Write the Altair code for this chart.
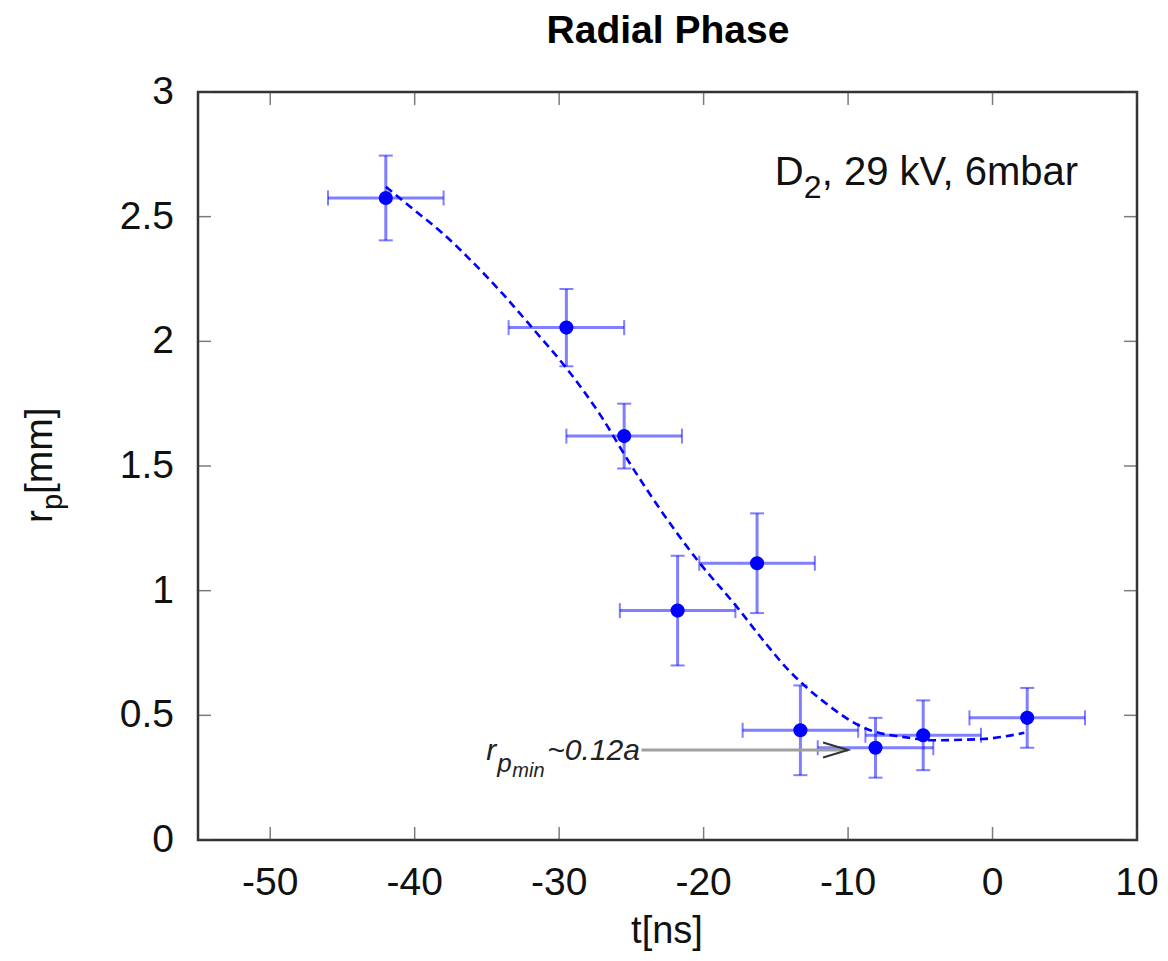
import altair as alt
import pandas as pd

# ---- data ----
t_ns = [-42.0, -29.5, -25.5, -21.8, -16.3, -13.3, -8.1, -4.8, 2.4]
r_mm = [2.575, 2.055, 1.62, 0.92, 1.11, 0.44, 0.37, 0.42, 0.49]
r_err = [0.17, 0.155, 0.13, 0.22, 0.20, 0.18, 0.12, 0.14, 0.12]
t_err = [4.0, 4.0, 4.0, 4.0, 4.0, 4.0, 4.0, 4.0, 4.0]

fit_t = [-42.0, -40.1, -38.0, -36.2, -33.9, -31.8, -29.6, -27.1, -25.1,
         -20.4, -17.7, -16.0, -14.1, -11.8, -8.9, -5.8, -4.2, -0.7, 2.2]
fit_r = [2.62, 2.53, 2.43, 2.33, 2.19, 2.05, 1.90, 1.70, 1.51,
         1.12, 0.935, 0.81, 0.68, 0.56, 0.45, 0.41, 0.40, 0.405, 0.43]

x_ticks = [-50, -40, -30, -20, -10, 0, 10]
y_ticks = [0, 0.5, 1, 1.5, 2, 2.5, 3]
x_labels = ["-50", "-40", "-30", "-20", "-10", "0", "10"]
y_labels = ["0", "0.5", "1", "1.5", "2", "2.5", "3"]

arrow_t = [-24.3, -10.0]
arrow_r = [0.361, 0.361]

FONT = "Liberation Sans"
BLUE = "#0000ff"

df = pd.DataFrame({
    "t": t_ns,
    "r": r_mm,
    "t_lo": [a - b for a, b in zip(t_ns, t_err)],
    "t_hi": [a + b for a, b in zip(t_ns, t_err)],
    "r_lo": [a - b for a, b in zip(r_mm, r_err)],
    "r_hi": [a + b for a, b in zip(r_mm, r_err)],
})
fit_df = pd.DataFrame({"t": fit_t, "r": fit_r})
arrow_df = pd.DataFrame({"t": arrow_t, "r": arrow_r})
xt_df = pd.DataFrame({"v": x_ticks, "lab": x_labels})
yt_df = pd.DataFrame({"v": y_ticks, "lab": y_labels})
one = pd.DataFrame({"a": [0]})

xs = alt.Scale(domain=[-55, 10], nice=False, zero=False)
ys = alt.Scale(domain=[0, 3], nice=False, zero=False)


def X(f):
    return alt.X(f, scale=xs, axis=None)


def Y(f):
    return alt.Y(f, scale=ys, axis=None)


base = alt.Chart(df)
EB = dict(color=BLUE, opacity=0.5)

hbar = base.mark_rule(strokeWidth=3, **EB).encode(x=X("t_lo:Q"), x2="t_hi:Q", y=Y("r:Q"))
vbar = base.mark_rule(strokeWidth=3, **EB).encode(x=X("t:Q"), y=Y("r_lo:Q"), y2="r_hi:Q")
cap_lo = base.mark_tick(thickness=2, size=14, orient="horizontal", **EB).encode(
    x=X("t:Q"), y=Y("r_lo:Q"))
cap_hi = base.mark_tick(thickness=2, size=14, orient="horizontal", **EB).encode(
    x=X("t:Q"), y=Y("r_hi:Q"))
cap_l = base.mark_tick(thickness=2, size=15, orient="vertical", **EB).encode(
    x=X("t_lo:Q"), y=Y("r:Q"))
cap_r = base.mark_tick(thickness=2, size=15, orient="vertical", **EB).encode(
    x=X("t_hi:Q"), y=Y("r:Q"))

fit = alt.Chart(fit_df).mark_line(color=BLUE, strokeWidth=2.6, strokeDash=[8, 5],
                                  interpolate="monotone").encode(x=X("t:Q"), y=Y("r:Q"))

points = base.mark_circle(color=BLUE, opacity=1, size=200).encode(x=X("t:Q"), y=Y("r:Q"))

# arrow annotation
arrow_line = alt.Chart(arrow_df).mark_line(color="#a0a0a0", strokeWidth=3).encode(
    x=X("t:Q"), y=Y("r:Q"))
arrow_head = alt.Chart(arrow_df.tail(1)).mark_point(
    shape="M-1,-0.3L0,0L-1,0.3", filled=False, color="#333333", strokeWidth=2,
    size=2500, opacity=1).encode(x=X("t:Q"), y=Y("r:Q"))

ann_df = pd.DataFrame({"t": [-35.04], "r": [0.321]})
ann = alt.Chart(ann_df)
AT = dict(font=FONT, fontStyle="italic", align="left", baseline="alphabetic", color="#222222")
ann_r = ann.mark_text(text="r", fontSize=30, **AT).encode(x=X("t:Q"), y=Y("r:Q"))
ann_p = ann.mark_text(text="p", fontSize=26, dx=11, dy=12, **AT).encode(x=X("t:Q"), y=Y("r:Q"))
ann_min = ann.mark_text(text="min", fontSize=20, dx=26, dy=17, **AT).encode(x=X("t:Q"), y=Y("r:Q"))
ann_val = ann.mark_text(text="~0.12a", fontSize=30, dx=61, **AT).encode(x=X("t:Q"), y=Y("r:Q"))

# label in upper right
leg_df = pd.DataFrame({"t": [-15.08], "r": [2.627]})
leg = alt.Chart(leg_df)
LT = dict(font=FONT, align="left", baseline="alphabetic", color="#111111")
leg_d = leg.mark_text(text="D", fontSize=40, **LT).encode(x=X("t:Q"), y=Y("r:Q"))
leg_2 = leg.mark_text(text="2", fontSize=32, dx=29, dy=13, **LT).encode(x=X("t:Q"), y=Y("r:Q"))
leg_rest = leg.mark_text(text=", 29 kV, 6mbar", fontSize=40, dx=47, **LT).encode(
    x=X("t:Q"), y=Y("r:Q"))

# inward mirrored ticks
TK = dict(color="#444444", thickness=1.5, size=26, clip=True)
xt_bottom = alt.Chart(xt_df).mark_tick(orient="vertical", **TK).encode(x=X("v:Q"), y=alt.value(748))
xt_top = alt.Chart(xt_df).mark_tick(orient="vertical", **TK).encode(x=X("v:Q"), y=alt.value(0))
yt_left = alt.Chart(yt_df).mark_tick(orient="horizontal", **TK).encode(y=Y("v:Q"), x=alt.value(0))
yt_right = alt.Chart(yt_df).mark_tick(orient="horizontal", **TK).encode(y=Y("v:Q"), x=alt.value(939))

# tick labels
xlab = alt.Chart(xt_df).mark_text(font=FONT, fontSize=39, align="center", baseline="alphabetic",
                                  color="#111111").encode(
    x=X("v:Q"), y=alt.value(803), text="lab:N")
ylab = alt.Chart(yt_df).mark_text(font=FONT, fontSize=39, align="right", baseline="middle",
                                  color="#111111").encode(
    y=Y("v:Q"), x=alt.value(-24), text="lab:N")

# titles
title = alt.Chart(one).mark_text(text="Radial Phase", font=FONT, fontWeight="bold", fontSize=39,
                                 align="center", baseline="alphabetic", color="#000000").encode(
    x=alt.value(470), y=alt.value(-49))
xtitle = alt.Chart(one).mark_text(text="t[ns]", font=FONT, fontSize=38, align="center",
                                  baseline="alphabetic", color="#111111").encode(
    x=alt.value(469), y=alt.value(851))
YT = dict(font=FONT, angle=270, align="left", baseline="alphabetic", color="#111111")
yt_r = alt.Chart(one).mark_text(text="r", fontSize=39, **YT).encode(
    x=alt.value(-146), y=alt.value(431))
yt_p = alt.Chart(one).mark_text(text="p", fontSize=29, **YT).encode(
    x=alt.value(-136), y=alt.value(418))
yt_mm = alt.Chart(one).mark_text(text="[mm]", fontSize=39, **YT).encode(
    x=alt.value(-146), y=alt.value(402))

chart = alt.layer(
    xt_bottom, xt_top, yt_left, yt_right,
    hbar, vbar, cap_lo, cap_hi, cap_l, cap_r,
    arrow_line, arrow_head,
    fit, points,
    ann_r, ann_p, ann_min, ann_val,
    leg_d, leg_2, leg_rest,
    xlab, ylab,
    title, xtitle, yt_r, yt_p, yt_mm,
).properties(
    width=939, height=748,
    padding={"left": 190, "top": 84, "right": 22, "bottom": 113},
    autosize=alt.AutoSizeParams(type="none"),
    background="white",
).configure_view(stroke="#333333", strokeWidth=2.5)

chart.save("out.html", embed_options={"renderer": "svg", "actions": False})
